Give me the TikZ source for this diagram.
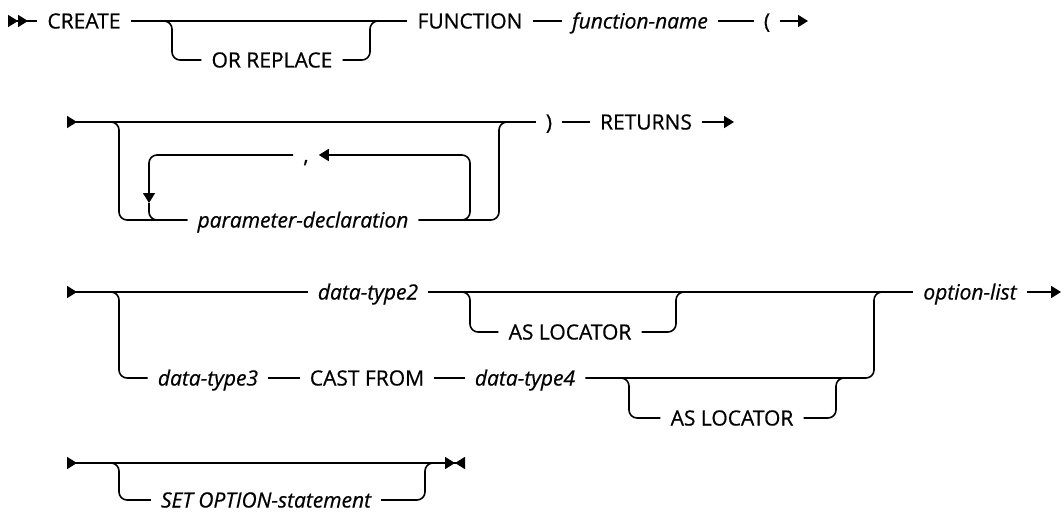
\documentclass[tikz,border=0pt]{standalone}
\usepackage{fontspec}
\setmainfont{Open Sans}[FakeBold=0.6, ItalicFeatures={FakeBold=0.6}]
\usetikzlibrary{arrows.meta,positioning,calc}
\tikzset{tri/.tip={Triangle[length=10pt, width=12pt, sep=0pt]}}

\begin{document}
\begin{tikzpicture}[
  x=1pt, y=-1pt,
  rail/.style={line width=1.6pt, rounded corners=8pt},
  kw/.style={font=\fontsize{21}{25}\selectfont, inner xsep=10pt, inner ysep=1pt,
    text height=15pt, text depth=0pt},
  var/.style={kw, font=\fontsize{21}{25}\selectfont\itshape}
]
\useasboundingbox (0,0) rectangle (1064,513);

% Row 1
\coordinate (s1) at (8,21);
\node[kw] (create) at (84,21) {CREATE};
\node[kw] (orrep) at (272,60) {OR REPLACE};
\node[kw] (func) at (470,21) {FUNCTION};
\node[var] (fname) at (640,21) {function-name};
\node[kw] (lpar) at (767,21) {(};
\coordinate (e1) at (808,21);
\coordinate (or1) at (172,21);
\coordinate (or2) at (370,21);
\draw[rail, {tri[reversed] tri[reversed]}-] (s1) -- (create.west);
\draw[rail] (create.east) -- (func.west);
\draw[rail] ([xshift=-10pt]or1) -- (or1) |- (orrep.west);
\draw[rail] (orrep.east) -| (or2) -- ([xshift=10pt]or2);
\draw[rail] (func.east) -- (fname.west);
\draw[rail] (fname.east) -- (lpar.west);
\draw[rail, -{tri}] (lpar.east) -- (e1);

% Row 2: parameters
\coordinate (s2) at (67,122);
\node[kw] (rpar) at (549,122) {)};
\node[kw] (ret) at (646,122) {RETURNS};
\coordinate (e2) at (734,122);
\node[var] (pdecl) at (303,220) {parameter-declaration};
\node[kw] (comma) at (306,155) {,};
\coordinate (pl) at (119,122);
\coordinate (pr) at (499,122);
\coordinate (ll) at (149,203);
\coordinate (lr) at (470,155);
\draw[rail, {tri[reversed]}-] (s2) -- (rpar.west);
\draw[rail] (rpar.east) -- (ret.west);
\draw[rail, -{tri}] (ret.east) -- (e2);
\draw[rail] ([xshift=-10pt]pl) -- (pl) |- (pdecl.west);
\draw[rail] (pdecl.east) -| (pr) -- ([xshift=10pt]pr);
\draw[rail, -{tri}] (pdecl.east) -| (lr) -- (comma.east);
\draw[rail, -{tri}] (comma.west) -| (ll);
\draw[rail] (ll) |- (pdecl.west);

% Row 3: return type
\coordinate (s3) at (67,292);
\node[var] (dt2) at (368,292) {data-type2};
\node[kw] (asl1) at (570,332) {AS LOCATOR};
\node[var] (optl) at (970,292) {option-list};
\coordinate (e3) at (1061,292);
\node[var] (dt3) at (208,378) {data-type3};
\node[kw] (cast) at (367,378) {CAST FROM};
\node[var] (dt4) at (525,378) {data-type4};
\node[kw] (asl2) at (732,418) {AS LOCATOR};
\coordinate (tl) at (119,292);
\coordinate (tr) at (874,292);
\coordinate (al1) at (470,292);
\coordinate (ar1) at (676,292);
\coordinate (al2) at (629,378);
\coordinate (ar2) at (836,378);
\draw[rail, {tri[reversed]}-] (s3) -- (dt2.west);
\draw[rail] (dt2.east) -- (optl.west);
\draw[rail, -{tri}] (optl.east) -- (e3);
\draw[rail] ([xshift=-10pt]al1) -- (al1) |- (asl1.west);
\draw[rail] (asl1.east) -| (ar1) -- ([xshift=10pt]ar1);
\draw[rail] ([xshift=-10pt]tl) -- (tl) |- (dt3.west);
\draw[rail] (dt3.east) -- (cast.west);
\draw[rail] (cast.east) -- (dt4.west);
\draw[rail] (dt4.east) -| (tr) -- ([xshift=10pt]tr);
\draw[rail] ([xshift=-10pt]al2) -- (al2) |- (asl2.west);
\draw[rail] (asl2.east) -| (ar2) -- ([xshift=10pt]ar2);

% Row 4
\coordinate (s4) at (67,463);
\coordinate (e4) at (465,463);
\node[var] (setopt) at (266,500) {SET OPTION-statement};
\coordinate (sl) at (119,463);
\coordinate (sr) at (425,463);
\draw[rail, {tri[reversed]}-{tri[] tri[reversed]}] (s4) -- (e4);
\draw[rail] ([xshift=-10pt]sl) -- (sl) |- (setopt.west);
\draw[rail] (setopt.east) -| (sr) -- ([xshift=10pt]sr);

\end{tikzpicture}
\end{document}
